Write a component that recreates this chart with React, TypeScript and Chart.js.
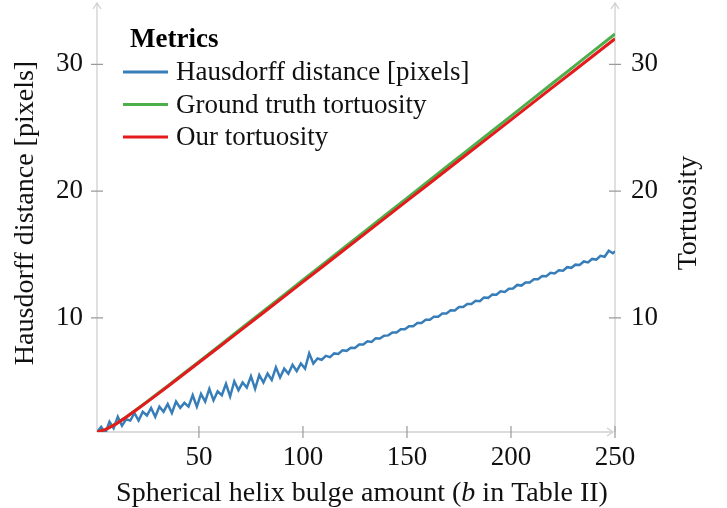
import React, { useEffect, useRef } from "react";
import { Chart, registerables } from "chart.js";
Chart.register(...registerables);

const hausdorffX = [
  1, 3, 5, 7, 9, 11, 13, 15, 17, 19, 21, 23, 25, 27, 29, 31, 33, 35, 37, 39,
  41, 43, 45, 47, 49, 51, 53, 55, 57, 59, 61, 63, 65, 67, 69, 71, 73, 75, 77, 79,
  81, 83, 85, 87, 89, 91, 93, 95, 97, 99, 101, 103, 105, 107, 109, 111, 113, 115, 117, 119,
  121, 123, 125, 127, 129, 131, 133, 135, 137, 139, 141, 143, 145, 147, 149, 151, 153, 155, 157, 159,
  161, 163, 165, 167, 169, 171, 173, 175, 177, 179, 181, 183, 185, 187, 189, 191, 193, 195, 197, 199,
  201, 203, 205, 207, 209, 211, 213, 215, 217, 219, 221, 223, 225, 227, 229, 231, 233, 235, 237, 239,
  241, 243, 245, 247, 249, 250,
];
const hausdorffY = [
  1.0, 1.4, 0.9, 1.8, 1.3, 2.2, 1.5, 2.0, 1.9, 2.5, 1.9, 2.6, 2.3, 2.9, 2.2, 3.0, 2.6, 3.2, 2.5, 3.4,
  2.9, 3.3, 3.0, 3.9, 3.0, 4.0, 3.4, 4.4, 3.5, 4.2, 3.9, 4.8, 3.8, 5.0, 4.3, 4.9, 4.5, 5.4, 4.4, 5.5,
  4.9, 5.6, 5.1, 6.1, 5.3, 6.0, 5.6, 6.3, 5.8, 6.4, 6.0, 7.2, 6.4, 6.8, 6.7, 7.0, 6.9, 7.2, 7.15, 7.45,
  7.4, 7.65, 7.62, 7.9, 7.9, 8.15, 8.1, 8.4, 8.38, 8.6, 8.62, 8.85, 8.85, 9.1, 9.1, 9.35, 9.35, 9.6, 9.6, 9.85,
  9.85, 10.1, 10.1, 10.35, 10.35, 10.6, 10.58, 10.85, 10.85, 11.1, 11.1, 11.35, 11.32, 11.6, 11.58, 11.85, 11.82, 12.1, 12.05, 12.3,
  12.32, 12.6, 12.55, 12.8, 12.8, 13.05, 13.05, 13.3, 13.28, 13.55, 13.5, 13.75, 13.72, 14.0, 13.95, 14.2, 14.18, 14.45, 14.38, 14.65,
  14.6, 14.9, 14.82, 15.3, 15.1, 15.25,
];

const tortX = [1, 5, 10, 15, 20, 25, 30, 35, 40, 45, 50, 60, 70, 80, 90, 100, 110, 120, 130, 140, 150, 160, 170, 180, 190, 200, 210, 220, 230, 240, 250];
const groundTruthY = [1.008, 1.191, 1.636, 2.185, 2.775, 3.388, 4.012, 4.642, 5.276, 5.913, 6.552, 7.834, 9.12, 10.408, 11.698, 12.989, 14.28, 15.572, 16.865, 18.158, 19.451, 20.744, 22.038, 23.331, 24.625, 25.919, 27.213, 28.508, 29.802, 31.096, 32.39];
const ourY = [1.0, 1.187, 1.624, 2.165, 2.748, 3.353, 3.969, 4.59, 5.217, 5.846, 6.478, 7.745, 9.016, 10.289, 11.563, 12.839, 14.116, 15.393, 16.67, 17.948, 19.226, 20.504, 21.783, 23.062, 24.341, 25.62, 26.899, 28.178, 29.457, 30.736, 32.016];

const xTicks = [50, 100, 150, 200, 250];
const yTicks = [10, 20, 30];
const seriesLabels = ["Hausdorff distance [pixels]", "Ground truth tortuosity", "Our tortuosity"];
const seriesColors = ["#377eb8", "#4daf4a", "#e41a1c"];
const legendTitle = "Metrics";
const xTitleParts = ["Spherical helix bulge amount (", "b", " in Table II)"];
const yTitle = "Hausdorff distance [pixels]";
const y2Title = "Tortuosity";

const FONT = '"Liberation Serif", "Times New Roman", serif';
const FS = 27;
const TFS = 28;

const axesPlugin = {
  id: "pgfAxes",
  beforeDatasetsDraw(chart: any) {
    const ctx = chart.ctx;
    const a = chart.chartArea;
    const xs = chart.scales.x;
    const ys = chart.scales.y;
    ctx.save();
    ctx.strokeStyle = "#d0d0d0";
    ctx.lineWidth = 1.3;
    const top = a.top - 3;
    ctx.beginPath();
    ctx.moveTo(a.left, a.bottom);
    ctx.lineTo(a.left, top);
    ctx.moveTo(a.right, a.bottom);
    ctx.lineTo(a.right, top);
    ctx.moveTo(a.left, a.bottom);
    ctx.lineTo(a.right - 2, a.bottom);
    ctx.stroke();
    const arrow = (x: number, y: number, dir: string) => {
      ctx.beginPath();
      if (dir === "up") {
        ctx.moveTo(x - 4, y + 6);
        ctx.lineTo(x, y);
        ctx.lineTo(x + 4, y + 6);
      } else {
        ctx.moveTo(x - 6, y - 4);
        ctx.lineTo(x, y);
        ctx.lineTo(x - 6, y + 4);
      }
      ctx.stroke();
    };
    arrow(a.left, top, "up");
    arrow(a.right, top, "up");
    arrow(a.right - 2, a.bottom, "right");
    ctx.strokeStyle = "#9a9a9a";
    ctx.lineWidth = 1.2;
    ctx.beginPath();
    xTicks.forEach((v) => {
      const px = xs.getPixelForValue(v);
      ctx.moveTo(px, a.bottom - 6);
      ctx.lineTo(px, a.bottom + 6);
    });
    yTicks.forEach((v) => {
      const py = ys.getPixelForValue(v);
      ctx.moveTo(a.left - 6, py);
      ctx.lineTo(a.left + 6, py);
      ctx.moveTo(a.right - 6, py);
      ctx.lineTo(a.right + 6, py);
    });
    ctx.stroke();
    ctx.restore();
  },
  afterDraw(chart: any) {
    const ctx = chart.ctx;
    const a = chart.chartArea;
    ctx.save();
    ctx.fillStyle = "#111";
    ctx.font = `${TFS}px ${FONT}`;
    ctx.textAlign = "center";
    ctx.textBaseline = "alphabetic";
    const midY = (a.top + a.bottom) / 2 - 6;
    // left title
    ctx.save();
    ctx.translate(a.left - 64, midY);
    ctx.rotate(-Math.PI / 2);
    ctx.fillText(yTitle, 0, 0);
    ctx.restore();
    // right title
    ctx.save();
    ctx.translate(a.right + 81, midY);
    ctx.rotate(-Math.PI / 2);
    ctx.fillText(y2Title, 0, 0);
    ctx.restore();
    // bottom title with italic b
    ctx.textAlign = "left";
    const fonts = [`${TFS}px ${FONT}`, `italic ${TFS}px ${FONT}`, `${TFS}px ${FONT}`];
    let total = 0;
    const widths = xTitleParts.map((t, i) => {
      ctx.font = fonts[i];
      const w = ctx.measureText(t).width;
      total += w;
      return w;
    });
    let x = (a.left + a.right) / 2 + 6 - total / 2;
    const by = a.bottom + 69;
    xTitleParts.forEach((t, i) => {
      ctx.font = fonts[i];
      ctx.fillText(t, x, by);
      x += widths[i];
    });
    // legend
    ctx.font = `bold ${FS}px ${FONT}`;
    ctx.fillStyle = "#000";
    ctx.fillText(legendTitle, a.left + 33, a.top + 41);
    chart.data.datasets.forEach((ds: any, i: number) => {
      const y = a.top + 66 + i * 32.5;
      ctx.strokeStyle = ds.borderColor;
      ctx.lineWidth = 3;
      ctx.beginPath();
      ctx.moveTo(a.left + 26, y);
      ctx.lineTo(a.left + 71, y);
      ctx.stroke();
      ctx.font = `${FS}px ${FONT}`;
      ctx.fillStyle = "#111";
      ctx.fillText(ds.label, a.left + 79, y + 8);
    });
    ctx.restore();
  },
};

export default function App() {
  const ref = useRef<HTMLCanvasElement | null>(null);
  useEffect(() => {
    document.body.style.margin = "0";
    if (!ref.current) return;
    const toPts = (xs: number[], ys: number[]) => xs.map((x, i) => ({ x, y: ys[i] }));
    const setTicks = (vals: number[]) => (scale: any) => {
      scale.ticks = vals.map((v) => ({ value: v }));
    };
    const fit = (w: number | null, h: number | null) => (s: any) => {
      if (w !== null) s.width = w;
      if (h !== null) s.height = h;
      s.paddingTop = 0;
      s.paddingBottom = 0;
      s.paddingLeft = 0;
      s.paddingRight = 0;
    };
    const tickFont = { family: FONT, size: FS };
    const chart = new Chart(ref.current, {
      type: "line",
      data: {
        datasets: [
          {
            label: seriesLabels[0],
            data: toPts(hausdorffX, hausdorffY),
            borderColor: seriesColors[0],
            borderWidth: 2.5,
            pointRadius: 0,
            order: 3,
            yAxisID: "y",
          },
          {
            label: seriesLabels[1],
            data: toPts(tortX, groundTruthY),
            borderColor: seriesColors[1],
            borderWidth: 3,
            pointRadius: 0,
            order: 2,
            yAxisID: "y",
          },
          {
            label: seriesLabels[2],
            data: toPts(tortX, ourY),
            borderColor: seriesColors[2],
            borderWidth: 3,
            pointRadius: 0,
            order: 1,
            yAxisID: "y",
          },
        ],
      },
      options: {
        animation: false,
        responsive: true,
        maintainAspectRatio: false,
        layout: { padding: { top: 6, left: 0, right: 0, bottom: 0 } },
        plugins: { legend: { display: false }, tooltip: { enabled: false } },
        scales: {
          x: {
            type: "linear",
            position: "bottom",
            min: 1,
            max: 250,
            grid: { display: false, drawTicks: false },
            border: { display: false },
            ticks: { font: tickFont, color: "#111", padding: 10, maxRotation: 0 },
            afterBuildTicks: setTicks(xTicks),
            afterFit: fit(null, 76),
          },
          y: {
            type: "linear",
            position: "left",
            min: 1,
            max: 34.6,
            grid: { display: false, drawTicks: false },
            border: { display: false },
            ticks: { font: tickFont, color: "#111", padding: 14 },
            afterBuildTicks: setTicks(yTicks),
            afterFit: fit(97, null),
          },
          y2: {
            type: "linear",
            position: "right",
            min: 1,
            max: 34.6,
            grid: { display: false, drawTicks: false },
            border: { display: false },
            ticks: { font: tickFont, color: "#111", padding: 16 },
            afterBuildTicks: setTicks(yTicks),
            afterFit: fit(112, null),
          },
        },
      },
      plugins: [axesPlugin],
    } as any);
    return () => chart.destroy();
  }, []);
  return (
    <div style={{ position: "absolute", left: 0, top: 0, width: 727, height: 508, background: "#fff" }}>
      <canvas ref={ref} />
    </div>
  );
}
